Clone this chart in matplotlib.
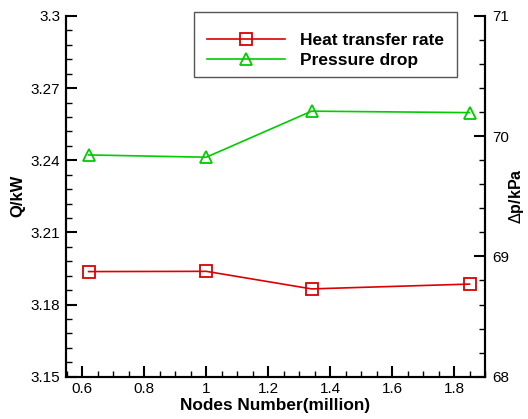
import matplotlib
matplotlib.use("Agg")
import matplotlib.pyplot as plt
from matplotlib.patches import Rectangle
from matplotlib.ticker import MultipleLocator, FixedLocator

plt.rcParams['font.family'] = ['Liberation Sans', 'DejaVu Sans']

nodes = [0.62, 1.0, 1.34, 1.85]
heat_rate = [3.1937, 3.1938, 3.1865, 3.1885]
pressure_drop = [69.844, 69.825, 70.208, 70.196]

xticks = [0.6, 0.8, 1.0, 1.2, 1.4, 1.6, 1.8]
xticklabels = ['0.6', '0.8', '1', '1.2', '1.4', '1.6', '1.8']
qticks = [3.15, 3.18, 3.21, 3.24, 3.27, 3.3]
qticklabels = ['3.15', '3.18', '3.21', '3.24', '3.27', '3.3']
pticks = [68, 69, 70, 71]

red = '#dd0000'
green = '#00cc00'

fig = plt.figure(figsize=(5.28, 4.19), dpi=100)
ax = fig.add_axes([0.125, 0.101, 0.7936, 0.861])
ax2 = ax.twinx()

l1, = ax.plot(nodes, heat_rate, color=red, lw=1.2, marker='s', ms=8,
              mfc='none', mec=red, mew=1.3, label='Heat transfer rate')
l2, = ax2.plot(nodes, pressure_drop, color=green, lw=1.2, marker='^', ms=9,
               mfc='none', mec=green, mew=1.3, label='Pressure drop')

ax.set_xlim(0.547, 1.9)
ax.set_ylim(3.15, 3.3)
ax2.set_ylim(68, 71)

ax.xaxis.set_major_locator(FixedLocator(xticks))
ax.set_xticklabels(xticklabels)
ax.xaxis.set_minor_locator(MultipleLocator(0.05))
ax.yaxis.set_major_locator(FixedLocator(qticks))
ax.set_yticklabels(qticklabels)
ax.yaxis.set_minor_locator(MultipleLocator(0.006))
ax2.yaxis.set_major_locator(FixedLocator(pticks))
ax2.yaxis.set_minor_locator(MultipleLocator(0.2))

for a in (ax, ax2):
    a.spines['top'].set_visible(False)
    for s in a.spines.values():
        s.set_linewidth(1.5)
    a.tick_params(which='major', direction='in', length=8, width=1.5, labelsize=11, pad=4)
    a.tick_params(which='minor', direction='in', length=4, width=1.0)
ax.tick_params(axis='both', which='both', top=False)
ax2.tick_params(axis='y', which='both', left=False, right=True, pad=5)

ax.set_xlabel('Nodes Number(million)', fontsize=12.4, fontweight='bold', labelpad=1)
ax.set_ylabel('Q/kW', fontsize=12, fontweight='bold')
ax.yaxis.set_label_coords(-0.098, 0.5)
fig.text(517 / 528, (419 - 196.5) / 419, '$\\Delta$p/kPa', fontsize=11.5, fontweight='bold',
         rotation=90, ha='center', va='center')

# legend frame (drawn separately) and entries
frame = Rectangle((0.3055, 0.8309), 0.9332 - 0.3055, 1.0111 - 0.8309,
                  transform=ax.transAxes, facecolor='white', edgecolor='#555555',
                  linewidth=1.0, clip_on=False, zorder=5)
ax2.add_patch(frame)
leg = ax2.legend([l1, l2], ['Heat transfer rate', 'Pressure drop'],
                 loc='upper right', bbox_to_anchor=(0.933, 1.011 - 8 / 360.7),
                 frameon=False, prop={'weight': 'bold', 'size': 12.5},
                 handlelength=4.5, borderpad=0.75, labelspacing=0.25, handletextpad=0.85,
                 borderaxespad=0)
leg.set_zorder(6)

fig.savefig('out.png', dpi=100)
